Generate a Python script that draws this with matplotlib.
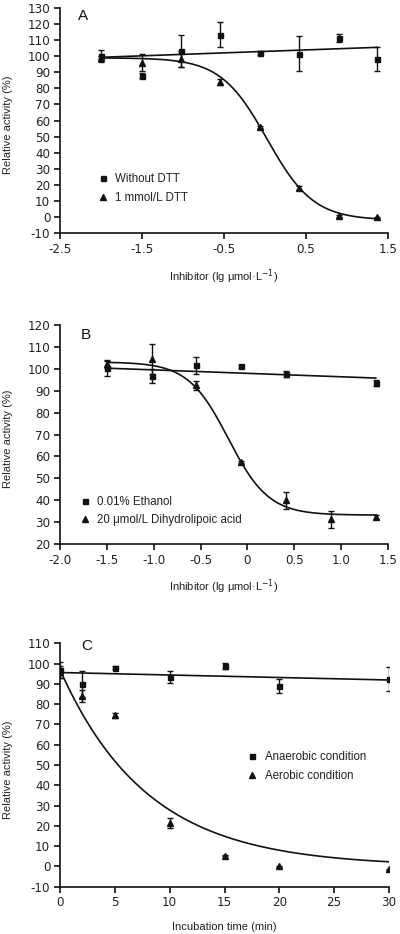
import numpy as np
import matplotlib
matplotlib.use('Agg')
import matplotlib.pyplot as plt

plt.rcParams['font.family'] = ['Liberation Sans', 'DejaVu Sans']
plt.rcParams['axes.unicode_minus'] = False

# ---------------- Panel A ----------------
a_x = [-2.0, -1.5, -1.02, -0.55, -0.06, 0.42, 0.9, 1.37]
a_nodtt = [100, 88, 103, 113.5, 102, 101.5, 111.5, 98]
a_nodtt_err = [3.8, 1.5, 10, 8, 1, 11, 2.5, 7.5]
a_dtt = [99, 96, 98, 84, 56, 18, 0.6, -0.3]
a_dtt_err = [1, 5.5, 5, 2, 0.5, 1.5, 0.5, 0.5]
a_lin = (103.0, 1.84)                 # intercept, slope
a_sig = (99.0, -2.0, 0.025, 1.535)    # top, bottom, logIC50, hill
a_xticks = [-2.5, -1.5, -0.5, 0.5, 1.5]
a_xticklabels = ['-2.5', '-1.5', '-0.5', '0.5', '1.5']
a_yticks = list(range(-10, 131, 10))
a_labels = ['Without DTT', '1 mmol/L DTT']

# ---------------- Panel B ----------------
b_x_eth = [-1.5, -1.02, -0.55, -0.07, 0.41, 1.37]
b_eth = [100.3, 96.6, 101.5, 101, 97.5, 93.3]
b_eth_err = [3.5, 3, 4, 0.6, 1.3, 1.3]
b_x_dhla = [-1.5, -1.02, -0.55, -0.07, 0.41, 0.89, 1.37]
b_dhla = [102, 104.5, 92.4, 57.6, 40, 31.4, 32.3]
b_dhla_err = [1.5, 6.8, 2, 0.5, 4, 3.8, 1]
b_lin = (97.85, -1.57)
b_sig = (103.0, 33.3, -0.204, 2.02)
b_xticks = [-2.0, -1.5, -1.0, -0.5, 0, 0.5, 1.0, 1.5]
b_xticklabels = ['-2.0', '-1.5', '-1.0', '-0.5', '0', '0.5', '1.0', '1.5']
b_yticks = list(range(20, 121, 10))
b_labels = ['0.01% Ethanol', '20 μmol/L Dihydrolipoic acid']

# ---------------- Panel C ----------------
c_t = [0, 2, 5, 10, 15, 20, 30]
c_anaer = [96.8, 89.9, 98, 93.2, 98.7, 88.8, 92.4]
c_anaer_err = [4, 6.5, 0.8, 3, 1.5, 3.5, 6]
c_aer = [96, 84, 74.5, 21.5, 5.3, 0, -1.5]
c_aer_err = [3, 3, 1.3, 2.5, 0.3, 0.3, 0.3]
c_lin = (95.6, -0.123)
c_exp = (97.0, 0.0, 0.125)            # y0, plateau, k
c_xticks = [0, 5, 10, 15, 20, 25, 30]
c_yticks = list(range(-10, 111, 10))
c_labels = ['Anaerobic condition', 'Aerobic condition']

W, H = 400, 934
fig = plt.figure(figsize=(W / 100, H / 100), dpi=100)

def px_axes(left, right, top, bottom):
    return fig.add_axes([left / W, 1 - bottom / H, (right - left) / W, (bottom - top) / H])

tick_col = '#222222'
fs = 8.0
lfs = 8.3
tfs = 8.6

def style(ax, xlab, xlab_y):
    for s in ['top', 'right']:
        ax.spines[s].set_visible(False)
    for s in ['left', 'bottom']:
        ax.spines[s].set_linewidth(1.2)
        ax.spines[s].set_color('#111111')
    ax.tick_params(direction='out', length=4, width=1.2, labelsize=tfs,
                   colors='#111111', labelcolor=tick_col, pad=3)
    ax.set_ylabel('Relative activity (%)', fontsize=fs, color=tick_col)
    ax.yaxis.set_label_coords(-0.158, 0.48)
    ax.yaxis.label.set_va('center')
    ax.set_xlabel(xlab, fontsize=fs, color=tick_col)
    ax.xaxis.set_label_coords(0.5, xlab_y)
    ax.xaxis.label.set_va('center')

ebkw = dict(color='#111111', ecolor='#111111', elinewidth=1.0, capsize=2.4, capthick=1.0,
            linestyle='none')

def sig(x, p):
    top, bot, c, h = p
    return bot + (top - bot) / (1 + 10 ** ((x - c) * h))

def set_ticks(ax, xt, xtl, yt):
    ax.set_xticks(xt)
    ax.set_xticklabels(xtl, family=['DejaVu Sans'])
    ax.set_yticks(yt)
    ax.set_yticklabels([str(v) for v in yt], family=['DejaVu Sans'])

legkw = dict(loc='lower left', frameon=False, fontsize=lfs, handlelength=1.0,
             handletextpad=0.6, labelspacing=0.6, borderpad=0, labelcolor=tick_col)

# Panel A
axA = px_axes(60, 388, 8, 233)
xs = np.linspace(a_x[0], a_x[-1], 300)
axA.plot(xs, a_lin[0] + a_lin[1] * xs, color='#111111', lw=1.2)
axA.plot(xs, sig(xs, a_sig), color='#111111', lw=1.2)
h1 = axA.errorbar(a_x, a_nodtt, yerr=a_nodtt_err, marker='s', ms=3.6, **ebkw)
h2 = axA.errorbar(a_x, a_dtt, yerr=a_dtt_err, marker='^', ms=4.2, **ebkw)
axA.set_xlim(-2.5, 1.5)
axA.set_ylim(-10, 130)
set_ticks(axA, a_xticks, a_xticklabels, a_yticks)
style(axA, 'Inhibitor (lg μmol·L$^{-1}$)', -0.196)
axA.text(0.07, 0.965, 'A', transform=axA.transAxes, fontsize=11, color='#111111',
         ha='center', va='center')
axA.legend([h1[0], h2[0]], a_labels, bbox_to_anchor=(0.095, 0.105), **legkw)

# Panel B
axB = px_axes(60, 388, 324.7, 544.3)
xs = np.linspace(b_x_eth[0], b_x_eth[-1], 300)
axB.plot(xs, b_lin[0] + b_lin[1] * xs, color='#111111', lw=1.2)
axB.plot(xs, sig(xs, b_sig), color='#111111', lw=1.2)
g1 = axB.errorbar(b_x_eth, b_eth, yerr=b_eth_err, marker='s', ms=3.6, **ebkw)
g2 = axB.errorbar(b_x_dhla, b_dhla, yerr=b_dhla_err, marker='^', ms=4.2, **ebkw)
axB.set_xlim(-2.0, 1.5)
axB.set_ylim(20, 120)
set_ticks(axB, b_xticks, b_xticklabels, b_yticks)
style(axB, 'Inhibitor (lg μmol·L$^{-1}$)', -0.194)
axB.text(0.08, 0.955, 'B', transform=axB.transAxes, fontsize=11, color='#111111',
         ha='center', va='center')
axB.legend([g1[0], g2[0]], b_labels, bbox_to_anchor=(0.04, 0.055), **legkw)

# Panel C
axC = px_axes(60, 389, 643.3, 886.7)
ts = np.linspace(0, 30, 300)
axC.plot(ts, c_lin[0] + c_lin[1] * ts, color='#111111', lw=1.2)
axC.plot(ts, c_exp[1] + (c_exp[0] - c_exp[1]) * np.exp(-c_exp[2] * ts), color='#111111', lw=1.2)
k1 = axC.errorbar(c_t, c_anaer, yerr=c_anaer_err, marker='s', ms=3.6, **ebkw)
k2 = axC.errorbar(c_t, c_aer, yerr=c_aer_err, marker='^', ms=4.2, **ebkw)
axC.set_xlim(0, 30)
axC.set_ylim(-10, 110)
set_ticks(axC, c_xticks, [str(v) for v in c_xticks], c_yticks)
style(axC, 'Incubation time (min)', -0.166)
axC.text(0.08, 0.99, 'C', transform=axC.transAxes, fontsize=11, color='#111111',
         ha='center', va='center')
axC.legend([k1[0], k2[0]], c_labels, bbox_to_anchor=(0.55, 0.405), **legkw)

fig.savefig('out.png', dpi=100)
